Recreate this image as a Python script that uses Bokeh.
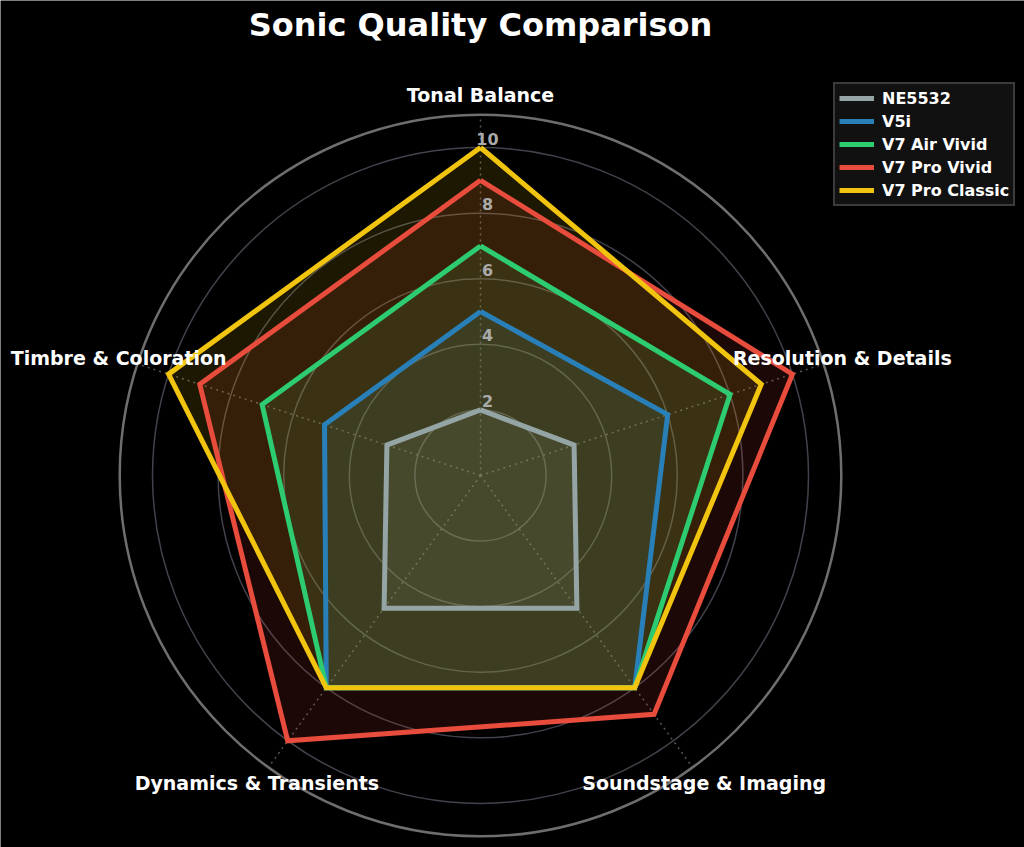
import numpy as np
from bokeh.plotting import figure
from bokeh.models import Range1d, Legend, LegendItem
from bokeh.core.properties import value
from bokeh.embed import file_html
from bokeh.resources import INLINE

# ---------------- data ----------------
categories = ["Tonal Balance", "Resolution & Details", "Soundstage & Imaging",
              "Dynamics & Transients", "Timbre & Coloration"]
series_names = ["NE5532", "V5i", "V7 Air Vivid", "V7 Pro Vivid", "V7 Pro Classic"]
ne5532 = [2, 3, 5, 5, 3]
v5i = [5, 6, 8, 8, 5]
v7_air_vivid = [7, 8, 8, 8, 7]
v7_pro_vivid = [9, 10, 9, 10, 9]
v7_pro_classic = [10, 9, 8, 8, 10]
series_values = [ne5532, v5i, v7_air_vivid, v7_pro_vivid, v7_pro_classic]
series_colors = ["#95a5a6", "#2980b9", "#2ecc71", "#e74c3c", "#f1c40f"]
tick_values = [2, 4, 6, 8, 10]
tick_labels = ["2", "4", "6", "8", "10"]
r_max = 11
label_r = 11.6
title_text = "Sonic Quality Comparison"

# ---------------- layout ----------------
W, H = 1024, 847
S = 32.8          # pixels per value unit
CX, CY = 480, 475  # polar centre in px from left / top of canvas

p = figure(width=W, height=H, output_backend="svg", toolbar_location=None,
           x_range=Range1d(-CX / S, (W - CX) / S),
           y_range=Range1d(-(H - CY) / S, CY / S),
           x_axis_type=None, y_axis_type=None, min_border=0)
p.grid.visible = False
p.background_fill_color = "black"
p.border_fill_color = "black"
p.outline_line_color = None

n = len(categories)
theta = np.deg2rad(90 - 360.0 / n * np.arange(n))
cos_t, sin_t = np.cos(theta), np.sin(theta)

# grid circles
p.circle(x=[0] * len(tick_values), y=[0] * len(tick_values), radius=tick_values,
         fill_color=None, line_color="#42424c", line_width=1.5)
# spokes
p.segment(x0=[0] * n, y0=[0] * n, x1=list(r_max * cos_t), y1=list(r_max * sin_t),
          line_color="#555555", line_width=1.5, line_dash="2 4")
# outer spine
p.circle(x=[0], y=[0], radius=[r_max], fill_color=None,
         line_color="#6e6e6e", line_width=2.5)

# fills first (below), then outlines (above)
coords = []
for vals in series_values:
    v = np.array(vals, dtype=float)
    coords.append((list(v * cos_t), list(v * sin_t)))

for (xs, ys), col in zip(coords, series_colors):
    p.patch(xs, ys, fill_color=col, fill_alpha=0.12, line_color=None)

renderers = []
for (xs, ys), col in zip(coords, series_colors):
    r = p.line(xs + xs[:1], ys + ys[:1], line_color=col, line_width=5,
               line_join="miter")
    renderers.append(r)

# radial tick labels
p.text(x=[0] * len(tick_values), y=tick_values, text=tick_labels,
       x_offset=7, y_offset=-9, text_align="center", text_baseline="middle",
       text_color="#aaaaaa", text_font=value("DejaVu Sans"),
       text_font_style="bold", text_font_size="16px")

# category labels
p.text(x=list(label_r * cos_t), y=list(label_r * sin_t), text=categories,
       text_align="center", text_baseline="middle", text_color="white",
       text_font=value("DejaVu Sans"), text_font_style="bold",
       text_font_size="19px")

# title
p.text(x=[0], y=[(CY - 24) / S], text=[title_text], text_align="center",
       text_baseline="middle", text_color="white",
       text_font=value("DejaVu Sans"), text_font_style="bold",
       text_font_size="32px")

legend = Legend(items=[LegendItem(label=nm, renderers=[r])
                       for nm, r in zip(series_names, renderers)],
                location=(833, 641),
                background_fill_color="#111111", background_fill_alpha=1.0,
                border_line_color="#666666", border_line_width=2,
                label_text_color="white", label_text_font="DejaVu Sans",
                label_text_font_style="bold", label_text_font_size="16px",
                glyph_width=35, glyph_height=20, label_height=20,
                spacing=3, padding=4, margin=0, label_standoff=8)
p.add_layout(legend)

html = file_html(p, INLINE)
html = html.replace("<body>", '<body style="background-color:#000000;">', 1)
open("out.html", "w").write(html)
